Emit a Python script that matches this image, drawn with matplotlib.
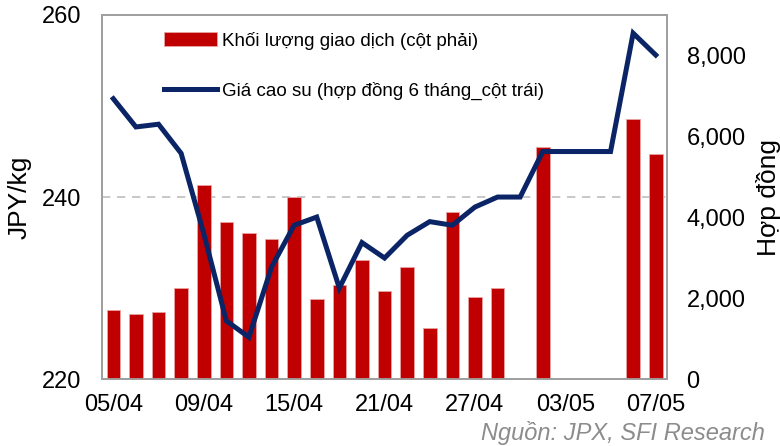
import matplotlib
matplotlib.use("Agg")
import matplotlib.pyplot as plt
import numpy as np

plt.rcParams['font.family'] = ['Liberation Sans', 'DejaVu Sans']

# trading days 05/04 - 07/05
dates = ['05/04', '06/04', '07/04', '08/04', '09/04', '12/04', '13/04', '14/04',
         '15/04', '16/04', '19/04', '20/04', '21/04', '22/04', '23/04', '26/04',
         '27/04', '28/04', '29/04', '30/04', '03/05', '04/05', '05/05', '06/05',
         '07/05']

# rubber price, 6-month contract (JPY/kg, left axis)
price = [250.8, 247.7, 248.0, 244.8, 236.0, 226.4, 224.6, 232.3, 236.9, 237.8,
         230.0, 235.0, 233.3, 235.8, 237.3, 236.9, 238.9, 240.0, 240.0, 245.0,
         245.0, 245.0, 245.0, 258.0, 255.6]

# trading volume (contracts, right axis); nan = holiday, no trading
volume = [1700, 1610, 1650, 2260, 4790, 3890, 3620, 3470, 4500, 1990,
          2320, 2940, 2170, 2770, 1270, 4120, 2030, 2240, np.nan, 5730,
          np.nan, np.nan, np.nan, 6420, 5560]

label_step = 4
red = '#c00000'
navy = '#0a2466'

fig = plt.figure(figsize=(7.8, 4.46), dpi=100)
ax = fig.add_axes([0.1308, 0.150, 0.7244, 0.8164])
ax2 = ax.twinx()
ax3 = ax.twinx()

x = np.arange(len(dates))

# left axis: price scale + dashed grid (behind everything)
ax.set_ylim(220, 260)
ax.set_yticks([220, 240, 260])
ax.yaxis.grid(True, color='#bfbfbf', linestyle=(0, (5, 4)), linewidth=1.2)
ax.set_axisbelow(True)
ax.set_ylabel('JPY/kg', fontsize=19)
ax.yaxis.set_label_coords(-0.124, 0.5)

# bars on right axis
bars = ax2.bar(x, volume, width=0.6, color=red, edgecolor='#eaa3a3',
               linewidth=0.6, label='Khối lượng giao dịch (cột phải)')
ax2.set_ylim(0, 9000)
ax2.set_yticks(range(0, 8001, 2000))
ax2.yaxis.set_major_formatter(matplotlib.ticker.FuncFormatter(lambda v, p: f'{int(v):,}'))
ax2.set_ylabel('Hợp đồng', fontsize=19)
ax2.yaxis.set_label_coords(1.157, 0.5)

# price line on top, same scale as left axis
line, = ax3.plot(x, price, color=navy, linewidth=3.6, solid_joinstyle='miter',
                 label='Giá cao su (hợp đồng 6 tháng_cột trái)')
ax3.set_ylim(ax.get_ylim())
ax3.set_yticks([])
for s in ax3.spines.values():
    s.set_visible(False)

ax.set_xlim(-0.5, len(dates) - 0.5)
ax.set_xticks(x[::label_step])
ax.set_xticklabels(dates[::label_step])

ax.tick_params(axis='x', length=0, pad=11, labelsize=17)
ax.tick_params(axis='y', length=0, pad=15, labelsize=17)
ax2.tick_params(axis='y', length=0, pad=14, labelsize=17)

for a in (ax, ax2):
    for s in a.spines.values():
        s.set_color('#a0a0a0')
        s.set_linewidth(1.3)

leg = ax3.legend(handles=[bars, line], loc='upper left',
                 bbox_to_anchor=(0.097, 0.975), frameon=False, fontsize=13.5,
                 handlelength=2.8, handletextpad=0.3, labelspacing=1.7,
                 borderaxespad=0)

fig.text(0.981, 1 - 421 / 446, 'Nguồn: JPX, SFI Research', ha='right', va='top',
         fontsize=17, style='italic', color='#8c8c8c')

fig.savefig('out.png', dpi=100)
